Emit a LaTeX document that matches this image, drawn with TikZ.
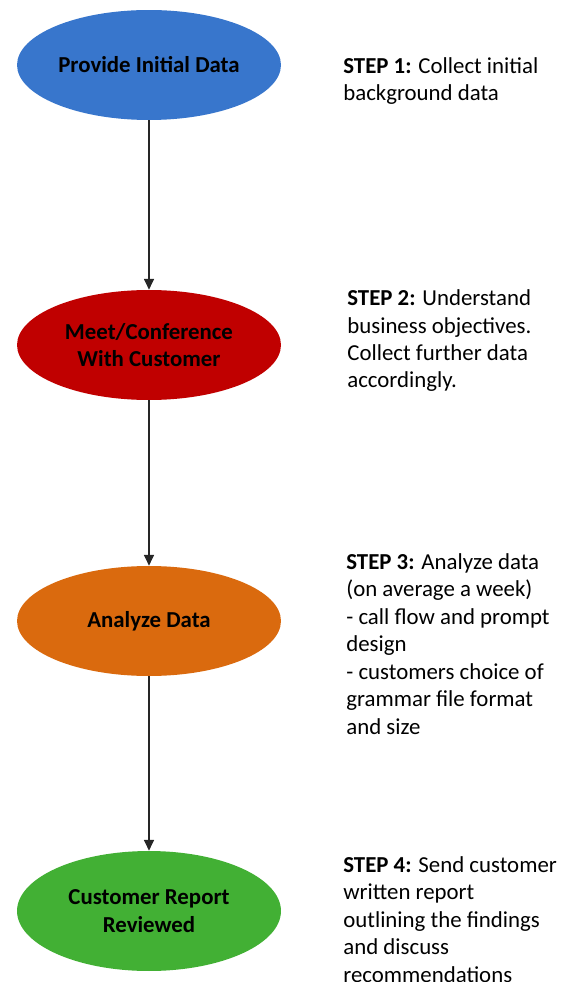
\documentclass[tikz,border=0pt]{standalone}
\usepackage{fontspec}
\setmainfont{Carlito}
\usetikzlibrary{positioning,shapes.geometric,arrows.meta}
\tikzstyle{chart} = [x = .02cm, y = -.02cm]
\definecolor{stageBlue}{RGB}{56,118,204}
\definecolor{stageRed}{RGB}{192,0,0}
\definecolor{stageOrange}{RGB}{218,106,14}
\definecolor{stageGreen}{RGB}{66,176,52}
\tikzstyle{stageStyle} = [ellipse, minimum width = 5.28cm, minimum height = 2.2cm, inner sep = 0pt, align = center, font = \fontsize{13}{15.65}\selectfont\bfseries]
\tikzstyle{noteStyle} = [anchor = base west, align = left, inner sep = 0pt, font = \fontsize{13}{15.65}\selectfont]
\tikzstyle{flowLine} = [draw = black!85, line width = .6pt, -{Triangle[width = 5.8pt, length = 6.2pt]}]
% anchored on the baseline of the last line
\newcommand{\stepNote}[4]{\node [noteStyle] (#1) at (#2) {\textbf{STEP #3:} #4};}

\begin{document}
\begin{tikzpicture}[chart]
  \useasboundingbox (0,0) rectangle (573,982);

  % the four stages
  \node [stageStyle, fill = stageBlue] (provide) at (149,65) {Provide Initial Data};
  \node [stageStyle, fill = stageRed] (meet) at (149,345) {Meet/Conference\\With Customer};
  \node [stageStyle, fill = stageOrange] (analyze) at (149,621) {Analyze Data};
  \node [stageStyle, fill = stageGreen, minimum height = 2.4cm] (report) at (149,911) {Customer Report\\Reviewed};

  \draw [flowLine] (provide) -- (meet);
  \draw [flowLine] (meet) -- (analyze);
  \draw [flowLine] (analyze) -- (report);

  % notes beside each stage
  \stepNote{noteOne}{343,101}{1}{Collect initial\\background data}
  \stepNote{noteTwo}{347,388}{2}{Understand\\business objectives.\\Collect further data\\accordingly.}
  \stepNote{noteThree}{346,734}{3}{Analyze data\\(on average a week)\\- call flow and prompt\\design\\- customers choice of\\grammar file format\\and size}
  \stepNote{noteFour}{343,982}{4}{Send customer\\written report\\outlining the findings\\and discuss\\recommendations}
\end{tikzpicture}
\end{document}
